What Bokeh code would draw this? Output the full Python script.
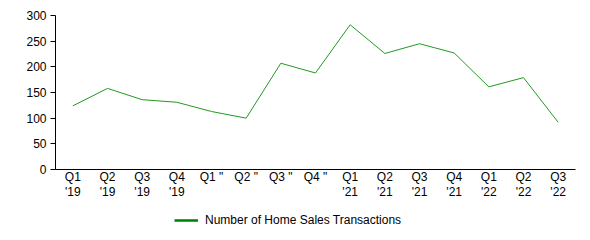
from bokeh.plotting import figure
from bokeh.models import Legend, LegendItem, FactorRange, SingleIntervalTicker, Range1d
from bokeh.layouts import column
from bokeh.embed import file_html
from bokeh.resources import INLINE

quarters = ["Q1\n'19", "Q2\n'19", "Q3\n'19", "Q4\n'19",
            'Q1 "', 'Q2 "', 'Q3 "', 'Q4 "',
            "Q1\n'21", "Q2\n'21", "Q3\n'21", "Q4\n'21",
            "Q1\n'22", "Q2\n'22", "Q3\n'22"]
transactions = [124, 158, 136, 131, 113, 100, 207, 188, 282, 226, 245, 227, 161, 179, 92]
series_name = "Number of Home Sales Transactions"

FONT = "Liberation Sans"

p = figure(width=590, height=208, x_range=FactorRange(*quarters, range_padding=0),
           y_range=Range1d(0, 300), output_backend="svg", toolbar_location=None,
           min_border_left=55, min_border_right=15, min_border_top=15, min_border_bottom=39)
p.outline_line_color = None
p.xgrid.visible = False
p.ygrid.visible = False

r = p.line(quarters, transactions, line_color="#229922", line_width=1)

p.yaxis.ticker = SingleIntervalTicker(interval=50)
for ax in (p.xaxis[0], p.yaxis[0]):
    ax.axis_line_color = "black"
    ax.major_label_text_font = FONT
    ax.major_label_text_font_size = "12px"
    ax.major_label_text_color = "black"
    ax.minor_tick_line_color = None
p.yaxis.major_tick_out = 5
p.yaxis.major_tick_in = 0
p.yaxis.major_tick_line_color = "black"
p.xaxis.major_tick_line_color = None
p.xaxis.major_tick_out = 0
p.xaxis.major_tick_in = 0
p.xaxis.major_label_standoff = 0
p.xaxis.major_label_text_line_height = 1.1
p.yaxis.major_label_standoff = 4

# legend strip below the chart
lg = figure(width=590, height=32, x_range=FactorRange(*quarters),
            y_range=Range1d(1000, 1001), output_backend="svg", toolbar_location=None,
            x_axis_location=None, y_axis_location=None, min_border=0)
lg.grid.visible = False
lg.outline_line_color = None
proxy = lg.line(quarters, transactions, line_color="green", line_width=2.5)

legend = Legend(items=[LegendItem(label=series_name, renderers=[proxy])],
                orientation="horizontal", location=(119, 12),
                label_text_font=FONT, label_text_font_size="12px",
                label_text_color="black", glyph_width=24, label_standoff=7,
                glyph_height=16, label_height=16,
                border_line_color=None, background_fill_alpha=0,
                padding=4, margin=0)
lg.add_layout(legend, "center")

layout = column(p, lg, spacing=0)
open("out.html", "w").write(file_html(layout, INLINE))
